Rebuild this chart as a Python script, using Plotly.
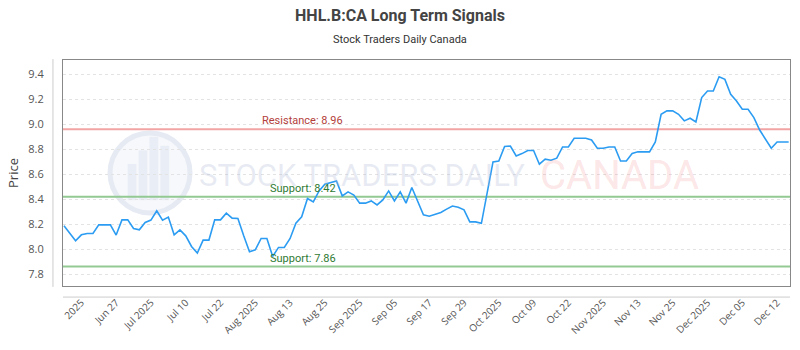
import plotly.graph_objects as go

# ---- data ----
prices = [
    8.186, 8.13, 8.066, 8.114, 8.125, 8.125, 8.194, 8.194, 8.194, 8.112,
    8.234, 8.234, 8.165, 8.154, 8.213, 8.232, 8.307, 8.232, 8.256, 8.114,
    8.154, 8.106, 8.021, 7.968, 8.072, 8.072, 8.234, 8.234, 8.288, 8.248,
    8.245, 8.106, 7.979, 7.994, 8.085, 8.085, 7.941, 8.013, 8.013, 8.085,
    8.208, 8.258, 8.405, 8.378, 8.466, 8.52, 8.533, 8.546, 8.426, 8.458,
    8.432, 8.368, 8.368, 8.386, 8.354, 8.394, 8.466, 8.386, 8.458, 8.368,
    8.493, 8.38, 8.275, 8.263, 8.28, 8.293, 8.32, 8.345, 8.335, 8.314,
    8.218, 8.218, 8.206, 8.45, 8.698, 8.706, 8.822, 8.826, 8.746, 8.765,
    8.79, 8.79, 8.68, 8.72, 8.712, 8.728, 8.818, 8.818, 8.888, 8.888,
    8.888, 8.874, 8.808, 8.808, 8.818, 8.818, 8.706, 8.706, 8.766, 8.779,
    8.779, 8.779, 8.859, 9.08, 9.107, 9.107, 9.08, 9.027, 9.048, 9.019,
    9.214, 9.267, 9.267, 9.381, 9.36, 9.24, 9.187, 9.12, 9.12, 9.053,
    8.954, 8.885, 8.808, 8.858, 8.858, 8.858,
]
tick_positions = [3, 9, 15, 21, 27, 33, 39, 45, 51, 57, 63, 69, 75, 81, 87, 93, 99, 105, 111, 117, 123]
tick_labels = ["2025", "Jun 27", "Jul 2025", "Jul 10", "Jul 22", "Aug 2025", "Aug 13",
               "Aug 25", "Sep 2025", "Sep 05", "Sep 17", "Sep 29", "Oct 2025", "Oct 09",
               "Oct 22", "Nov 2025", "Nov 13", "Nov 25", "Dec 2025", "Dec 05", "Dec 12"]
resistance = 8.96
support_hi = 8.42
support_lo = 7.86
y_ticks = [7.8, 8.0, 8.2, 8.4, 8.6, 8.8, 9.0, 9.2, 9.4]

x_idx = list(range(len(prices)))

fig = go.Figure()

# horizontal signal lines
for lvl, col in [(resistance, "#f2a3a3"), (support_hi, "#93c993"), (support_lo, "#93c993")]:
    fig.add_trace(go.Scatter(x=[-1, len(prices) + 1], y=[lvl, lvl], mode="lines",
                             line=dict(color=col, width=2), hoverinfo="skip", showlegend=False))

fig.add_trace(go.Scatter(x=x_idx, y=prices, mode="lines",
                         line=dict(color="#2b9cf2", width=1.6), showlegend=False))

# watermark
fig.add_shape(type="circle", xref="paper", yref="paper",
              x0=0.1197 - 0.055, x1=0.1197 + 0.055, y0=0.5 - 0.177, y1=0.5 + 0.177,
              line=dict(color="#e6eaf3", width=5), fillcolor="rgba(240,243,249,0.6)", layer="below")
for bx, bh in [(0.095, 0.16), (0.11, 0.22), (0.125, 0.28), (0.14, 0.24)]:
    fig.add_shape(type="rect", xref="paper", yref="paper",
                  x0=bx - 0.006, x1=bx + 0.006, y0=0.38, y1=0.38 + bh,
                  line=dict(width=0), fillcolor="#e9edf5", layer="below")
fig.add_annotation(text="STOCK TRADERS DAILY", xref="paper", yref="paper", x=(362 - 63) / 727, y=0.49,
                   xanchor="center", yanchor="middle",
                   showarrow=False, font=dict(family="Roboto", size=31, color="rgba(170,182,210,0.28)"))
fig.add_annotation(text="CANADA", xref="paper", yref="paper", x=(619 - 63) / 727, y=0.49,
                   xanchor="center", yanchor="middle",
                   showarrow=False, font=dict(family="Roboto", size=40, color="rgba(240,110,110,0.18)"))

# level labels
fig.add_annotation(text="Resistance: 8.96", x=33.8, y=resistance, xanchor="left", yanchor="bottom",
                   showarrow=False, font=dict(family="Roboto", size=11, color="#b3403a"))
fig.add_annotation(text="Support: 8.42", x=35.2, y=support_hi, xanchor="left", yanchor="bottom",
                   showarrow=False, font=dict(family="Roboto", size=11, color="#2f7a33"))
fig.add_annotation(text="Support: 7.86", x=35.2, y=support_lo, xanchor="left", yanchor="bottom",
                   showarrow=False, font=dict(family="Roboto", size=11, color="#2f7a33"))

# outer axis lines
fig.add_shape(type="line", xref="paper", yref="paper", x0=-0.0138, x1=-0.0138, y0=-0.004, y1=1.004,
              line=dict(color="#cccccc", width=1))
fig.add_shape(type="line", xref="paper", yref="paper", x0=0, x1=1, y0=-0.049, y1=-0.049,
              line=dict(color="#cccccc", width=1))

fig.update_layout(
    width=800, height=350,
    margin=dict(l=63, r=10, t=60, b=64),
    paper_bgcolor="white", plot_bgcolor="white",
    title=dict(text="<b>HHL.B:CA Long Term Signals</b>", x=0.5, xanchor="center", y=0.955, yanchor="middle",
               font=dict(family="Roboto", size=16, color="#444444")),
    xaxis=dict(range=[-0.17, 125.23], tickmode="array", tickvals=tick_positions, ticktext=tick_labels,
               tickangle=-45, showgrid=False, zeroline=False, showline=True, mirror=True,
               linecolor="#888888", linewidth=1, ticks="", ticklabelstandoff=6,
               tickfont=dict(family="Open Sans", size=10, color="#555555")),
    yaxis=dict(range=[7.704, 9.515], tickmode="array", tickvals=y_ticks,
               ticktext=[f"{v:.1f}" for v in y_ticks],
               showgrid=True, gridcolor="#e3e3e3", griddash="dot", zeroline=False,
               showline=True, mirror=True, linecolor="#888888", linewidth=1, ticks="",
               ticklabelstandoff=16,
               title=dict(text="Price", font=dict(family="Open Sans", size=13, color="#444444"), standoff=6),
               tickfont=dict(family="Open Sans", size=11, color="#555555")),
)
fig.add_annotation(text="Stock Traders Daily Canada", xref="paper", yref="paper", x=(400 - 63) / 727, y=1.0,
                   yshift=21, yanchor="middle", xanchor="center", showarrow=False,
                   font=dict(family="Roboto", size=11, color="#333333"))

fig.write_html("out.html")
